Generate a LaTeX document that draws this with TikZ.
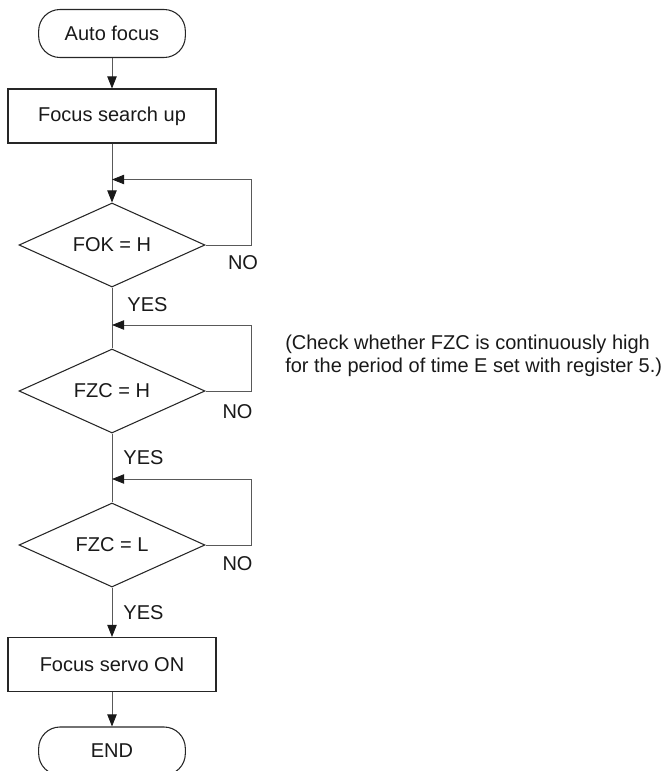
\documentclass[tikz,border=0pt]{standalone}
\usepackage{fontspec}
\setmainfont{Liberation Sans}
\usetikzlibrary{shapes.geometric,arrows.meta}

\tikzset{
  term/.style={draw=black!85, line width=0.8pt, rounded corners=16pt,
    minimum width=110pt, minimum height=36pt, inner sep=0pt},
  proc/.style={draw=black!85, line width=0.8pt,
    minimum width=156pt, minimum height=40.5pt, inner sep=0pt},
  test/.style={diamond, aspect=2.2, draw=black!85, line width=0.8pt,
    minimum width=139.5pt, minimum height=63pt, inner sep=0pt},
  flow/.style={draw=black!65, line width=0.6pt},
  tip/.style={-{Triangle[length=9pt,width=7pt,color=black!90]}},
  lbl/.style={inner sep=0pt}
}

\begin{document}
\begin{tikzpicture}[x=0.75pt,y=-0.75pt,font=\fontsize{15}{17}\selectfont,text=black!90]
			\clip (0,0) rectangle (665,771);
			% steps
			\node[term] (start) at (112,33.5) {Auto focus};
			\node[proc] (search) at (112,116) {Focus search up};
			\node[test] (fok) at (112,245) {FOK = H};
			\node[test] (fzch) at (112,391) {FZC = H};
			\node[test] (fzcl) at (112,545) {FZC = L};
			\node[proc] (servo) at (112,664.5) {Focus servo ON};
			\node[term] (stop) at (112,751) {END};
			% loop entries
			\coordinate (j1) at (112,179.5);
			\coordinate (j2) at (112,325);
			\coordinate (j3) at (112,479);
			% main line
			\draw[flow,tip] (start) -- (search);
			\draw[flow,tip] (search) -- (fok);
			\draw[flow] (fok) -- (fzch);
			\draw[flow] (fzch) -- (fzcl);
			\draw[flow,tip] (fzcl) -- (servo);
			\draw[flow,tip] (servo) -- (stop);
			% loops back
			\draw[flow,tip] (fok.east) -- ++(46,0) |- (j1);
			\draw[flow,tip] (fzch.east) -- ++(46,0) |- (j2);
			\draw[flow,tip] (fzcl.east) -- ++(46,0) |- (j3);
			% labels
			\node[lbl] (no1) at (243,263) {NO};
			\node[lbl] (no2) at (237.5,411.5) {NO};
			\node[lbl] (no3) at (237.5,564) {NO};
			\node[lbl] (yes1) at (147.5,305) {YES};
			\node[lbl] (yes2) at (143.5,458) {YES};
			\node[lbl] (yes3) at (143.5,613) {YES};
			\node[lbl,anchor=west,align=left] (note) at (285,356) {(Check whether FZC is continuously high\\for the period of time E set with register 5.)};
			\end{tikzpicture}
\end{document}
